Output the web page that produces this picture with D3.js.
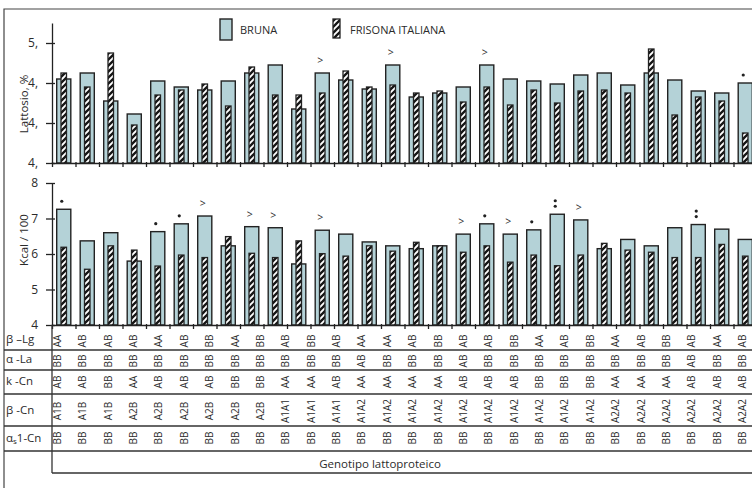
<!DOCTYPE html>
<html><head><meta charset="utf-8">
<script src="https://cdn.jsdelivr.net/npm/d3@7"></script>
<style>
body{margin:0;background:#fff;}
svg text{font-family:"Open Sans",sans-serif;fill:#2b2b2b;}
</style></head><body>
<svg id="chart" width="752" height="488"></svg>
<script>
// Genotype groups (bars) in both panels
const groups = d3.range(1, 31);

// Lattosio, % — Bruna (wide bars) and Frisona Italiana (narrow hatched bars)
const lattosioBruna = [4.82,4.85,4.71,4.645,4.81,4.78,4.765,4.81,4.85,4.89,4.67,4.85,4.815,4.77,4.89,4.73,4.75,4.78,4.89,4.82,4.81,4.795,4.84,4.85,4.79,4.85,4.815,4.76,4.75,4.80];
const lattosioFrisona = [4.85,4.78,4.95,4.59,4.74,4.765,4.795,4.685,4.88,4.74,4.74,4.75,4.86,4.78,4.79,4.75,4.76,4.705,4.78,4.69,4.765,4.70,4.76,4.765,4.75,4.97,4.64,4.73,4.71,4.55];
const lattosioTicks = [4.4, 4.6, 4.8, 5.0];
const lattosioTickLabels = ["4,", "4,", "4,", "5,"];
const lattosioMarks = ["","","","","","","","","","","",">","","",">","","","",">","","","","","","","","","","","•"];

// Kcal / 100
const kcalBruna = [7.26,6.37,6.60,5.80,6.63,6.85,7.07,6.23,6.77,6.74,5.72,6.67,6.56,6.34,6.23,6.15,6.23,6.56,6.85,6.56,6.68,7.12,6.96,6.15,6.41,6.23,6.74,6.83,6.70,6.41];
const kcalFrisona = [6.19,5.57,6.23,6.11,5.66,5.97,5.90,6.49,6.02,5.90,6.37,6.01,5.94,6.23,6.08,6.33,6.23,6.05,6.23,5.77,5.97,5.67,5.97,6.30,6.11,6.05,5.90,5.90,6.27,5.94];
const kcalTicks = [4, 5, 6, 7, 8];
const kcalMarks = ["•","","","","•","•",">","",">",">","",">","","","","","",">","•",">","•","••",">","","","","","••","",""];

// Genotype table
const betaLg   = ["AA","AB","AB","AB","AA","AB","BB","AA","BB","AB","BB","AB","AA","AA","AB","BB","AB","AB","BB","AA","AB","BB","AA","AB","BB","AB","AA","AB"];
const alphaLa  = ["BB","BB","BB","BB","BB","BB","BB","BB","BB","BB","BB","BB","AB","BB","BB","BB","AB","BB","BB","BB","BB","BB","BB","BB","BB","AB","BB","BB"];
const kCn      = ["AB","AB","BB","AA","AB","AB","AB","BB","BB","AA","AA","AB","AA","AA","AA","AA","AB","AB","AB","BB","BB","BB","AA","AA","AA","AB","AB","AB"];
const betaCn   = ["A1B","A1B","A1B","A2B","A2B","A2B","A2B","A2B","A2B","A1A1","A1A1","A1A1","A1A2","A1A2","A1A2","A1A2","A1A2","A1A2","A1A2","A1A2","A1A2","A1A2","A2A2","A2A2","A2A2","A2A2","A2A2","A2A2"];
const alphaS1Cn = betaCn.map(() => "BB");

const seriesNames = ["BRUNA", "FRISONA ITALIANA"];

const svg = d3.select("#chart");
const ink = "#222";
const brunaFill = "#b4d2d7";

// hatch pattern for Frisona bars
const defs = svg.append("defs");
const pat = defs.append("pattern").attr("id", "hatch")
  .attr("patternUnits", "userSpaceOnUse").attr("width", 6).attr("height", 6);
pat.append("rect").attr("width", 6).attr("height", 6).attr("fill", "#fff");
pat.append("path").attr("d", "M-1,1 L1,-1 M0,6 L6,0 M5,7 L7,5")
  .attr("stroke", "#151515").attr("stroke-width", 2.3);

// outer frame
svg.append("path").attr("d", "M4,490 L4,9 L752,9").attr("fill", "none")
  .attr("stroke", "#444").attr("stroke-width", 1.2);

// shared x scale for bars
const x = d3.scaleBand().domain(groups).range([52, 757]).paddingInner(0.4).paddingOuter(0.2);
const xEdge = d3.scaleLinear().domain([0, groups.length]).range([52, 757]);

function panel(opts) {
  const { bruna, frisona, y, ticks, tickFormat, marks, label, labelY } = opts;
  const g = svg.append("g");
  const base = y.range()[0];

  // Bruna bars
  g.selectAll("rect.b").data(groups).join("rect").attr("class", "b")
    .attr("x", d => x(d)).attr("width", x.bandwidth())
    .attr("y", (d, i) => y(bruna[i])).attr("height", (d, i) => base - y(bruna[i]))
    .attr("fill", brunaFill).attr("stroke", ink).attr("stroke-width", 1.4);

  // Frisona bars
  const hw = 5.5;
  g.selectAll("rect.f").data(groups).join("rect").attr("class", "f")
    .attr("x", d => x(d) + x.bandwidth() / 2 - hw / 2).attr("width", hw)
    .attr("y", (d, i) => y(frisona[i])).attr("height", (d, i) => base - y(frisona[i]))
    .attr("fill", "url(#hatch)").attr("stroke", ink).attr("stroke-width", 1.3);

  // significance marks
  groups.forEach((d, i) => {
    const m = marks[i];
    if (!m) return;
    const top = y(bruna[i]);
    const cx = x(d) + x.bandwidth() / 2 - 2;
    if (m === ">") {
      g.append("text").attr("x", cx).attr("y", top - 13).attr("text-anchor", "middle")
        .attr("dominant-baseline", "central").attr("font-size", 10.5).text(">");
    } else {
      const n = m.length;
      for (let k = 0; k < n; k++) {
        g.append("circle").attr("cx", cx).attr("cy", top - 8 - (n - 1 - k) * 5.5)
          .attr("r", 1.6).attr("fill", ink);
      }
    }
  });

  // y axis
  const ya = g.append("g").attr("transform", "translate(52,0)")
    .call(d3.axisLeft(y).tickValues(ticks).tickFormat(tickFormat).tickSize(5).tickSizeOuter(0).tickPadding(9));
  ya.select(".domain").attr("stroke", ink).attr("stroke-width", 1.3);
  ya.selectAll(".tick line").attr("stroke", ink).attr("stroke-width", 1.3).attr("x2", -6).attr("x1", 3);
  ya.selectAll(".tick text").attr("font-size", 12).attr("fill", "#333");

  // x axis with ticks between groups
  const xa = g.append("g").attr("transform", `translate(0,${base})`)
    .call(d3.axisBottom(xEdge).tickValues(d3.range(0, groups.length + 1)).tickFormat("").tickSize(4).tickSizeOuter(0));
  xa.select(".domain").attr("stroke", ink).attr("stroke-width", 1.4);
  xa.selectAll(".tick line").attr("stroke", ink).attr("stroke-width", 1.3).attr("y1", -1);

  // axis title
  svg.append("text").attr("transform", `translate(23,${labelY}) rotate(-90)`)
    .attr("text-anchor", "middle").attr("dominant-baseline", "central")
    .attr("font-size", 11.5).text(label);
}

const yLat = d3.scaleLinear().domain([4.4, 5.1]).range([163, 23]);
panel({
  bruna: lattosioBruna, frisona: lattosioFrisona, y: yLat, ticks: lattosioTicks,
  tickFormat: (d, i) => lattosioTickLabels[i], marks: lattosioMarks,
  label: "Lattosio, %", labelY: 104
});

const yKcal = d3.scaleLinear().domain([4, 8]).range([325, 183]);
panel({
  bruna: kcalBruna, frisona: kcalFrisona, y: yKcal, ticks: kcalTicks,
  tickFormat: d3.format("d"), marks: kcalMarks,
  label: "Kcal / 100", labelY: 240
});

// legend
const lg = svg.append("g");
lg.append("rect").attr("x", 220).attr("y", 19).attr("width", 12).attr("height", 21)
  .attr("fill", brunaFill).attr("stroke", ink).attr("stroke-width", 1.4);
lg.append("text").attr("x", 240).attr("y", 29).attr("dominant-baseline", "central")
  .attr("font-size", 11).text(seriesNames[0]);
lg.append("rect").attr("x", 333).attr("y", 19).attr("width", 7).attr("height", 19)
  .attr("fill", "url(#hatch)").attr("stroke", ink).attr("stroke-width", 1.3);
lg.append("text").attr("x", 350).attr("y", 29).attr("dominant-baseline", "central")
  .attr("font-size", 11).text(seriesNames[1]);

// genotype table
const col = d3.scaleBand().domain(d3.range(betaLg.length)).range([44.3, 754.7]);
const rows = [
  { key: "β –Lg", vals: betaLg, cy: 341, ly: 338 },
  { key: "α -La", vals: alphaLa, cy: 361, ly: 358 },
  { key: "k -Cn", vals: kCn, cy: 382, ly: 380 },
  { key: "β -Cn", vals: betaCn, cy: 411, ly: 409 },
  { key: "αs1-Cn", vals: alphaS1Cn, cy: 438, ly: 437 }
];
const tg = svg.append("g");
[350, 370, 394, 426, 451].forEach(yy => {
  tg.append("line").attr("x1", 4).attr("x2", 752).attr("y1", yy).attr("y2", yy)
    .attr("stroke", "#333").attr("stroke-width", 1.3);
});
tg.append("line").attr("x1", 52).attr("x2", 752).attr("y1", 473).attr("y2", 473)
  .attr("stroke", "#333").attr("stroke-width", 1.3);
tg.append("line").attr("x1", 52).attr("x2", 52).attr("y1", 325).attr("y2", 473)
  .attr("stroke", "#333").attr("stroke-width", 1.3);

rows.forEach(r => {
  const t = tg.append("text").attr("x", 6).attr("y", r.ly).attr("dominant-baseline", "central")
    .attr("font-size", 11.5);
  if (r.key === "αs1-Cn") {
    t.append("tspan").text("α");
    t.append("tspan").attr("font-size", 8).attr("dy", 3).text("s");
    t.append("tspan").attr("dy", -3).text("1-Cn");
  } else {
    t.text(r.key);
  }
  tg.selectAll(null).data(r.vals).join("text")
    .attr("transform", (d, i) => `translate(${col(i) + col.bandwidth() / 2},${r.cy}) rotate(-90)`)
    .attr("text-anchor", "middle").attr("dominant-baseline", "central")
    .attr("font-size", 10).text(d => d);
});

tg.append("text").attr("x", 380).attr("y", 463).attr("text-anchor", "middle")
  .attr("dominant-baseline", "central").attr("font-size", 11.5).text("Genotipo lattoproteico");
</script>
</body></html>
